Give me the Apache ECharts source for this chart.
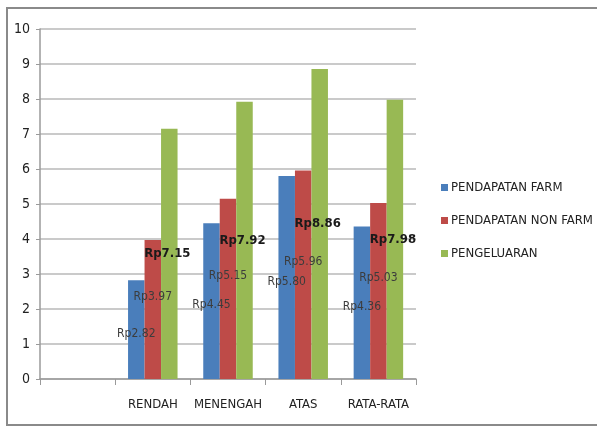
<!DOCTYPE html>
<html>
<head>
<meta charset="utf-8">
<script src="https://cdn.jsdelivr.net/npm/echarts@6/dist/echarts.min.js"></script>
<style>
html, body { margin: 0; padding: 0; background: #fff; }
#chart { width: 597px; height: 427px; }
</style>
</head>
<body>
<div id="chart"></div>
<script>
var categories = ['', 'RENDAH', 'MENENGAH', 'ATAS', 'RATA-RATA'];
var farm = ['-', 2.82, 4.45, 5.80, 4.36];
var nonFarm = ['-', 3.97, 5.15, 5.96, 5.03];
var pengeluaran = ['-', 7.15, 7.92, 8.86, 7.98];
var seriesNames = ['PENDAPATAN FARM', 'PENDAPATAN NON FARM', 'PENGELUARAN'];

var fontNarrow = '"Liberation Sans Narrow", "DejaVu Sans Condensed", sans-serif';

function rpLabel(p) {
    return 'Rp' + Number(p.value).toFixed(2);
}

var chart = echarts.init(document.getElementById('chart'));

var option = {
    animation: false,
    backgroundColor: '#fff',
    graphic: [{
        type: 'rect',
        shape: { x: 7, y: 8, width: 640, height: 417 },
        style: { fill: 'none', stroke: '#8a8a8a', lineWidth: 2 },
        z: 0
    }],
    grid: { left: 40, right: 181, top: 29, bottom: 48 },
    legend: {
        data: seriesNames,
        orient: 'vertical',
        left: 436,
        top: 176,
        itemWidth: 7,
        itemHeight: 7,
        itemGap: 20,
        icon: 'rect',
        textStyle: { fontFamily: fontNarrow, fontSize: 13, color: '#222', padding: [0, 0, 0, -2] }
    },
    xAxis: {
        type: 'category',
        data: categories,
        axisLine: { lineStyle: { color: '#9a9a9a', width: 1.5 } },
        axisTick: { show: true, length: 6, lineStyle: { color: '#9a9a9a' } },
        axisLabel: { interval: 0, fontFamily: fontNarrow, fontSize: 13, color: '#222', margin: 19 }
    },
    yAxis: {
        type: 'value',
        min: 0,
        max: 10,
        interval: 1,
        axisLine: { show: true, lineStyle: { color: '#9a9a9a', width: 1.5 } },
        axisTick: { show: true, length: 4, lineStyle: { color: '#9a9a9a' } },
        axisLabel: { fontFamily: fontNarrow, fontSize: 14, color: '#222', margin: 10 },
        splitLine: { lineStyle: { color: '#b8b8b8', width: 1.5 } }
    },
    series: [{
        name: seriesNames[0],
        type: 'bar',
        data: farm,
        barWidth: 16.5,
        barGap: '0%',
        itemStyle: { color: '#4a7ebb' },
        label: {
            show: true, position: 'inside', formatter: rpLabel,
            fontFamily: fontNarrow, fontSize: 12, color: '#3c3c3c', offset: [0, 4]
        }
    }, {
        name: seriesNames[1],
        type: 'bar',
        data: nonFarm,
        barWidth: 16.5,
        barGap: '0%',
        itemStyle: { color: '#be4b48' },
        label: {
            show: true, position: 'inside', formatter: rpLabel,
            fontFamily: fontNarrow, fontSize: 12, color: '#3c3c3c', offset: [0, -13]
        }
    }, {
        name: seriesNames[2],
        type: 'bar',
        data: pengeluaran,
        barWidth: 16.5,
        barGap: '0%',
        itemStyle: { color: '#98b954' },
        label: {
            show: true, position: 'inside', formatter: rpLabel,
            fontFamily: fontNarrow, fontSize: 13, fontWeight: 'bold', color: '#1a1a1a', offset: [-2, 0]
        }
    }]
};

chart.setOption(option);
window.addEventListener('resize', function() {
    chart.resize();
});
</script>
</body>
</html>
